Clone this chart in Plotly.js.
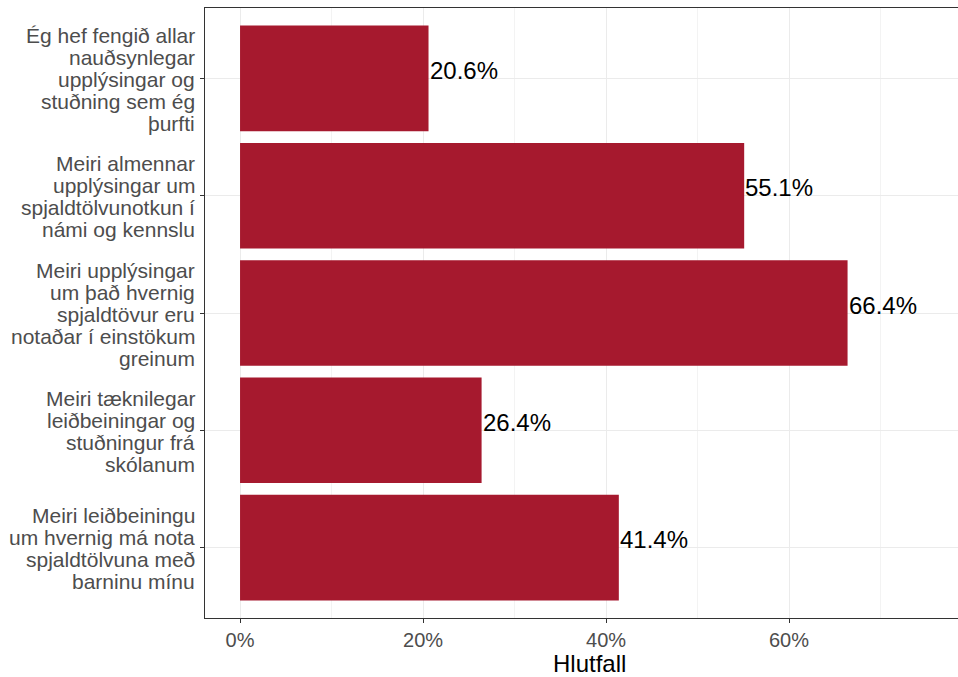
<!DOCTYPE html>
<html>
<head>
<meta charset="utf-8">
<script src="https://cdn.plot.ly/plotly-3.0.1.min.js"></script>
<style>html,body{margin:0;padding:0;background:#fff;}</style>
</head>
<body>
<div id="chart" style="width:958px;height:677px;"></div>
<script>
const categoryLines = [
  ["Ég hef fengið allar", "nauðsynlegar", "upplýsingar og", "stuðning sem ég", "þurfti"],
  ["Meiri almennar", "upplýsingar um", "spjaldtölvunotkun í", "námi og kennslu"],
  ["Meiri upplýsingar", "um það hvernig", "spjaldtövur eru", "notaðar í einstökum", "greinum"],
  ["Meiri tæknilegar", "leiðbeiningar og", "stuðningur frá", "skólanum"],
  ["Meiri leiðbeiningu", "um hvernig má nota", "spjaldtölvuna með", "barninu mínu"]
];
const categories = categoryLines.map(l => l.join(" "));
const values = [20.6, 55.1, 66.4, 26.4, 41.4];
const xTickVals = [0, 20, 40, 60];
const xTickText = ["0%", "20%", "40%", "60%"];
const xTitle = "Hlutfall";

const FONT = "Liberation Sans, Arial, sans-serif";

const barTrace = {
  type: "bar",
  orientation: "h",
  x: values,
  y: categories,
  width: 0.9,
  marker: {color: "#A6192E"},
  hoverinfo: "skip"
};

const annotations = [];
values.forEach((v, i) => {
  annotations.push({
    x: v, y: categories[i], xref: "x", yref: "y",
    text: v.toFixed(1) + "%",
    showarrow: false, xanchor: "left", yanchor: "middle",
    xshift: -1, yshift: 8,
    font: {family: FONT, size: 24, color: "#000000"}
  });
});
const lineStep = 22;
categoryLines.forEach((lines, i) => {
  const n = lines.length;
  lines.forEach((ln, j) => {
    annotations.push({
      x: 0, xref: "paper", y: categories[i], yref: "y",
      text: ln, showarrow: false, xanchor: "right", yanchor: "middle",
      xshift: -8, yshift: -(j - (n - 1) / 2) * lineStep - 1,
      font: {family: FONT, size: 21, color: "#4D4D4D"}
    });
  });
});
// axis title (the original plot panel extends past the right edge of the image)
annotations.push({
  x: 0.51, xref: "paper", y: 0, yref: "paper",
  text: xTitle, showarrow: false, xanchor: "center", yanchor: "middle",
  yshift: -45,
  font: {family: FONT, size: 24, color: "#000000"}
});

const layout = {
  width: 958, height: 677,
  margin: {l: 205, r: 0, t: 8, b: 59},
  paper_bgcolor: "#ffffff",
  plot_bgcolor: "#ffffff",
  showlegend: false,
  bargap: 0.1,
  xaxis: {
    range: [-3.83, 78.47],
    tickvals: xTickVals,
    ticktext: xTickText,
    showgrid: true, gridcolor: "#EBEBEB", gridwidth: 1,
    minor: {tickvals: [10, 30, 50, 70], showgrid: true, gridcolor: "#F3F3F3", gridwidth: 1, ticks: ""},
    zeroline: false,
    ticks: "outside", ticklen: 4, tickcolor: "#333333", tickwidth: 1,
    tickfont: {family: FONT, size: 20, color: "#4D4D4D"},
    showline: true, linecolor: "#333333", linewidth: 1, mirror: true
  },
  yaxis: {
    type: "category",
    range: [4.6, -0.6],
    showgrid: true, gridcolor: "#EBEBEB", gridwidth: 1,
    ticks: "outside", ticklen: 4, tickcolor: "#333333", tickwidth: 1,
    showticklabels: false,
    showline: true, linecolor: "#333333", linewidth: 1, mirror: false
  },
  annotations: annotations
};

Plotly.newPlot("chart", [barTrace], layout, {displayModeBar: false, staticPlot: true});
</script>
</body>
</html>
